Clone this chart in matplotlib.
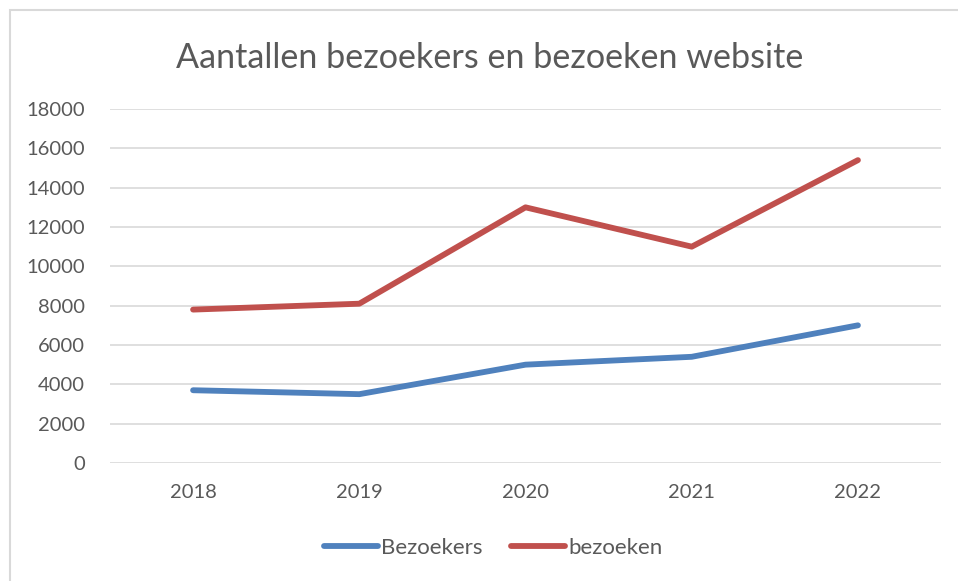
import matplotlib
matplotlib.use("Agg")
import matplotlib.pyplot as plt
from matplotlib.patches import Rectangle

# data
jaren = ["2018", "2019", "2020", "2021", "2022"]
bezoekers = [3700, 3500, 5000, 5400, 7000]
bezoeken = [7800, 8100, 13000, 11000, 15400]
y_ticks = [0, 2000, 4000, 6000, 8000, 10000, 12000, 14000, 16000, 18000]

text_kleur = "#595959"
plt.rcParams["font.family"] = ["Lato", "DejaVu Sans"]

fig = plt.figure(figsize=(9.58, 5.81), dpi=100)
ax = fig.add_axes([0.1148, 0.2031, 0.8675, 0.6093])

# outer chart border (Excel style, cut off at right and bottom)
fig.patches.append(Rectangle((10 / 958, -0.1), 1.2, 1 - 10 / 581 + 0.1,
                             transform=fig.transFigure, fill=False,
                             edgecolor="#D9D9D9", linewidth=1.5))

x = list(range(len(jaren)))
ax.plot(x, bezoekers, color="#4F81BD", linewidth=4.2, solid_capstyle="round",
        solid_joinstyle="round", label="Bezoekers")
ax.plot(x, bezoeken, color="#C0504D", linewidth=4.2, solid_capstyle="round",
        solid_joinstyle="round", label="bezoeken")

ax.set_xlim(-0.5, len(jaren) - 0.5)
ax.set_ylim(0, 18000)
ax.set_yticks(y_ticks)
ax.set_yticklabels([str(v) for v in y_ticks])
ax.set_xticks(x)
ax.set_xticklabels(jaren)
ax.grid(axis="y", color="#D9D9D9", linewidth=1.2)
ax.set_axisbelow(True)
for s in ax.spines.values():
    s.set_visible(False)
ax.tick_params(length=0, labelsize=14.5, colors=text_kleur)
ax.tick_params(axis="y", pad=18)
ax.tick_params(axis="x", pad=15)

fig.text(0.511, 0.9, "Aantallen bezoekers en bezoeken website", ha="center",
         va="center", fontsize=24.6, color=text_kleur)

leg = fig.legend(loc="center", bbox_to_anchor=(0.515, 0.057), ncol=2, frameon=False,
                 fontsize=16, handlelength=2.4, handletextpad=0.15, columnspacing=1.3)
for t in leg.get_texts():
    t.set_color(text_kleur)

fig.savefig("out.png", dpi=100)
